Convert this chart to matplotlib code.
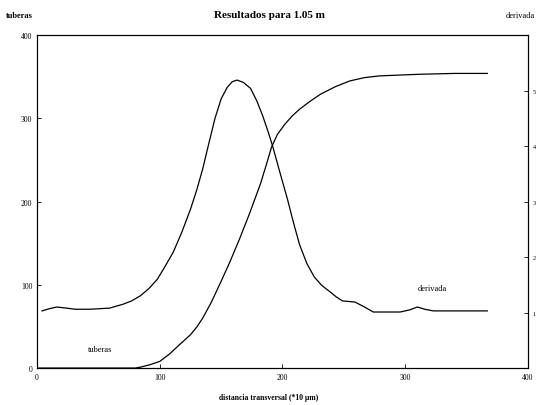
import numpy as np
import matplotlib
matplotlib.use('Agg')
import matplotlib.pyplot as plt

plt.rcParams['font.family'] = ['Liberation Serif', 'DejaVu Serif']

# tuberas (acumulado), eje izquierdo
x_tub = [0, 40, 80, 84, 92, 100, 108, 116, 125, 130, 135, 142, 149, 157, 165, 173, 182, 187, 191,
         196, 202, 208, 214, 222, 231, 243, 255, 267, 279, 295, 312, 340, 367]
y_tub = [0, 0, 0, 1, 4, 8, 17, 28, 40, 49, 60, 79, 101, 127, 155, 185, 221, 245, 265,
         281, 293, 303, 311, 320, 329, 338, 345, 349, 351, 352, 353, 354, 354]

# derivada, eje derecho
x_der = [4, 10, 16, 24, 31, 43, 59, 70, 77, 84, 91, 98, 104, 111, 118, 125, 130, 135, 140, 145,
         150, 155, 159, 163, 168, 174, 179, 184, 188, 192, 198, 204, 209, 214, 220, 226, 232,
         239, 244, 249, 259, 267, 274, 296, 304, 310, 316, 323, 367]
y_der = [1.03, 1.07, 1.10, 1.08, 1.06, 1.06, 1.08, 1.15, 1.21, 1.30, 1.43, 1.60, 1.82, 2.09,
         2.45, 2.86, 3.20, 3.59, 4.05, 4.50, 4.85, 5.06, 5.16, 5.19, 5.15, 5.04, 4.82, 4.54,
         4.28, 4.00, 3.52, 3.05, 2.62, 2.22, 1.88, 1.64, 1.49, 1.37, 1.28, 1.21, 1.19, 1.10,
         1.01, 1.01, 1.05, 1.10, 1.06, 1.03, 1.03]

x_ticks = [0, 100, 200, 300, 400]
y_ticks = [0, 100, 200, 300, 400]
y2_ticks = [1, 2, 3, 4, 5]

fig = plt.figure(figsize=(5.38, 4.06), dpi=100)
ax = fig.add_axes([0.069, 0.091, 0.912, 0.820])
ax.plot(x_tub, y_tub, color='k', lw=0.9)
ax.set_xlim(0, 400)
ax.set_ylim(0, 400)
ax.set_xticks(x_ticks)
ax.set_yticks(y_ticks)
ax.tick_params(direction='in', labelsize=5.5, length=3, width=0.6)
for s in ax.spines.values():
    s.set_linewidth(0.8)

ax2 = ax.twinx()
ax2.plot(x_der, y_der, color='k', lw=0.9)
ax2.set_ylim(0, 6)
ax2.set_yticks(y2_ticks)
ax2.tick_params(direction='in', labelsize=4.5, length=3, width=0.6)

ax.text(41, 21, 'tuberas', fontsize=6)
ax.text(310, 94, 'derivada', fontsize=6)

fig.text(0.01, 0.955, 'tuberas', fontsize=6, fontweight='bold')
fig.text(0.50, 0.955, 'Resultados para 1.05 m', fontsize=8, fontweight='bold', ha='center')
fig.text(0.995, 0.955, 'derivada', fontsize=6, ha='right')
fig.text(0.50, 0.015, 'distancia transversal (*10 µm)', fontsize=5.5, fontweight='bold', ha='center')

plt.savefig('out.png', dpi=100)
